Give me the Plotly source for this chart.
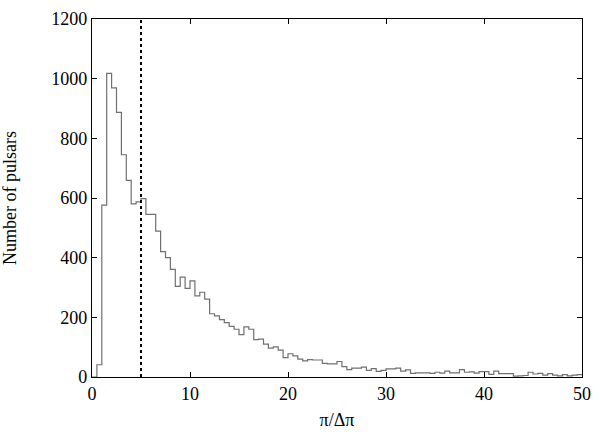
import numpy as np
import plotly.graph_objects as go

# histogram of pi/dpi, bin width 0.5 from 0 to 50
bin_width = 0.5
counts = [
    0, 41, 576, 1018, 969, 887, 745, 659, 580, 587,
    598, 545, 545, 489, 420, 400, 361, 304, 335, 297,
    322, 272, 284, 261, 212, 205, 192, 182, 170, 160,
    142, 168, 160, 125, 127, 110, 97, 101, 90, 65,
    78, 71, 60, 54, 58, 57, 57, 46, 44, 44,
    52, 35, 25, 30, 30, 33, 22, 28, 19, 22,
    27, 27, 30, 20, 24, 12, 14, 14, 14, 12,
    16, 13, 20, 14, 14, 25, 16, 17, 13, 18,
    18, 9, 20, 11, 11, 11, 3, 4, 5, 16,
    10, 12, 6, 11, 6, 4, 8, 4, 6, 8,
]
cut_value = 5
x_ticks = [0, 10, 20, 30, 40, 50]
y_ticks = [0, 200, 400, 600, 800, 1000, 1200]

edges = np.arange(len(counts) + 1) * bin_width
step_y = counts + [counts[-1]]

font = "Liberation Serif"
label_font = dict(family=font, size=18, color="black")

fig = go.Figure()
fig.add_trace(go.Scatter(
    x=edges, y=step_y, mode="lines", line_shape="hv",
    line=dict(color="#707070", width=1.2), showlegend=False
))
fig.add_trace(go.Scatter(
    x=[cut_value, cut_value], y=[0, 1200], mode="lines",
    line=dict(color="black", width=2, dash="dot"), showlegend=False
))

axis_style = dict(
    showgrid=False, zeroline=False, showline=True, linecolor="black",
    linewidth=1.3, mirror="ticks", ticks="inside", ticklen=5,
    tickcolor="black", tickfont=label_font,
)
fig.update_xaxes(range=[0, 50], tickvals=x_ticks, **axis_style,
                 title=dict(text="π/Δπ", font=label_font, standoff=10))
fig.update_yaxes(range=[0, 1200], tickvals=y_ticks, ticksuffix="    ", **axis_style,
                 title=dict(text="Number of pulsars", font=label_font, standoff=30))
fig.update_layout(
    width=600, height=435,
    margin=dict(l=92, r=10, t=9, b=54),
    plot_bgcolor="white", paper_bgcolor="white",
)
# drop the page's default body margin so the figure sits at the window origin
fig.write_html("out.html", config={"displayModeBar": False},
               post_script="document.body.style.margin='0';")
